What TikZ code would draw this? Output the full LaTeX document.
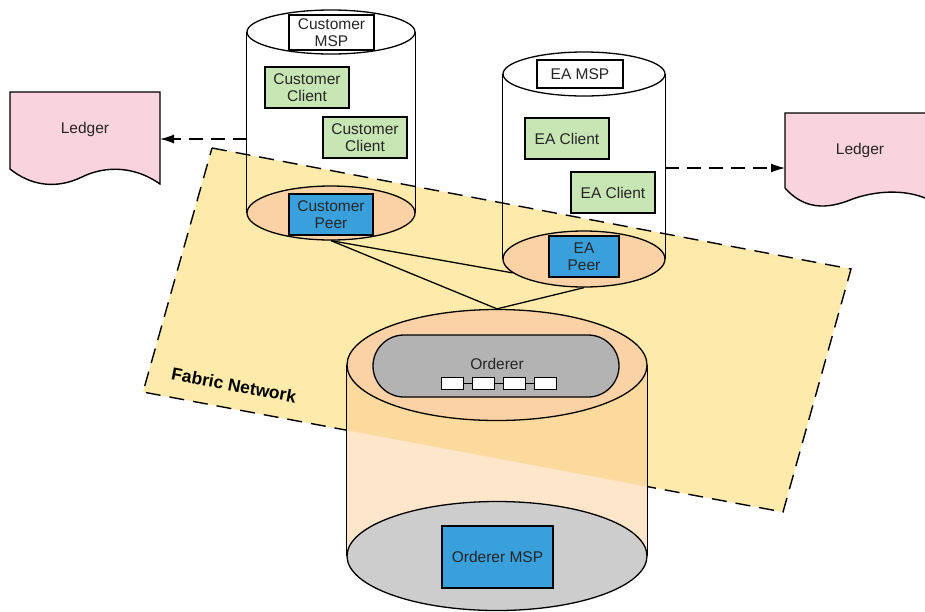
\documentclass[tikz,border=0pt]{standalone}
\usepackage{fontspec}
\setmainfont{Liberation Sans}
\usetikzlibrary{arrows.meta,positioning,shapes.geometric}

\definecolor{ledgerpink}{HTML}{F9D3DE}
\definecolor{netyellow}{HTML}{FEEBAB}
\definecolor{peach}{HTML}{FAD2A6}
\definecolor{peachlight}{HTML}{FEE6CA}
\definecolor{peachdark}{HTML}{FCDA9E}
\definecolor{clientgreen}{HTML}{C7E6B4}
\definecolor{peerblue}{HTML}{3AA0DC}
\definecolor{poolgray}{HTML}{B3B3B3}
\definecolor{basegray}{HTML}{CDCDCD}
\definecolor{inkgray}{HTML}{262626}

\tikzset{
  label text/.style={text=inkgray,align=center,inner sep=0pt,font=\fontsize{15.5}{16.5}\selectfont},
  box/.style={label text,draw=black,line width=1.6pt},
  mspbox/.style={box,fill=white},
  clientbox/.style={box,fill=clientgreen,minimum width=84pt,minimum height=41pt},
  peerbox/.style={box,fill=peerblue,minimum height=41pt},
  disc/.style={ellipse,draw=black,line width=1.3pt,inner sep=0pt},
  link/.style={line width=1.3pt},
  flow/.style={line width=1.3pt,dash pattern=on 14pt off 8pt,-{Latex[length=14pt,width=9pt]}},
  block/.style={draw=black,fill=white,line width=1pt,minimum width=22pt,minimum height=12pt,inner sep=0pt},
}

\begin{document}
\begin{tikzpicture}[x=1pt,y=-1pt]
        \useasboundingbox (0,0) rectangle (925,611);
        \clip (0,0) rectangle (925,611);

        \coordinate (netA) at (212,148);
        \coordinate (netB) at (851,269);
        \coordinate (netC) at (783,512);
        \coordinate (netD) at (143,392);

        \draw
          [fill=netyellow,line width=1.4pt,dash pattern=on 15pt off 9pt]
          (netA)
          -- (netB)
          -- (netC)
          -- (netD)
          -- cycle
        ;
        \node [text=black,inner sep=0pt,rotate=-10.8,font=\bfseries\fontsize{17.5}{18}\selectfont]
          (netLabel) at (234,385) {Fabric Network};

        \draw
          [fill=ledgerpink,line width=1.4pt]
          (10,92)
          -- (160,92)
          -- (160,184)
            .. controls (130,163) and (100,168)
          .. (82,177)
            .. controls (55,190) and (30,185)
          .. (10,169)
          -- cycle
        ;
        \node [label text] (ledgerL) at (85,129) {Ledger};

        \draw
          [fill=ledgerpink,line width=1.4pt]
          (785,113)
          -- (940,113)
          -- (940,206)
            .. controls (910,185) and (870,192)
          .. (850,200)
            .. controls (820,212) and (800,205)
          .. (785,188)
          -- cycle
        ;
        \node [label text] (ledgerR) at (860,150) {Ledger};

        \node [disc,fill=peach,minimum width=168pt,minimum height=54pt] (custBase) at (331,213) {};
        \node [disc,fill=white,minimum width=168pt,minimum height=44pt] (custTop) at (331,32) {};
        \draw [link] (custTop.west) -- (custBase.west);
        \draw [link] (custTop.east) -- (custBase.east);

        \node [disc,fill=peach,minimum width=162pt,minimum height=56pt] (eaBase) at (584,259) {};
        \node [disc,fill=white,minimum width=162pt,minimum height=44pt] (eaTop) at (584,74) {};
        \draw [link] (eaTop.west) -- (eaBase.west);
        \draw [link] (eaTop.east) -- (eaBase.east);

        \fill [peachlight] (347,365) rectangle (647,556);
        \begin{scope}
          \clip (347,365) rectangle (647,556);
          \fill [peachdark] (netA) -- (netB) -- (netC) -- (netD) -- cycle;
        \end{scope}
        \node [disc,fill=basegray,minimum width=300pt,minimum height=109pt] (ordBase) at (497,556) {};
        \node [disc,fill=peach,minimum width=300pt,minimum height=111pt] (ordTop) at (497,365) {};
        \draw [link] (ordTop.west) -- (ordBase.west);
        \draw [link] (ordTop.east) -- (ordBase.east);

        \draw [link] (custBase.south) -- (ordTop.north);
        \draw [link] (custBase.south) -- (eaBase.191);
        \draw [link] (eaBase.south) -- (ordTop.north);

        \node [draw=black,fill=poolgray,line width=1.3pt,rounded corners=31pt,
          minimum width=246pt,minimum height=62pt] (ordPool) at (496,366) {};
        \node [label text] (ordLabel) at (497,364) {Orderer};
        \node [block] (blk1) at (452,383) {};
        \foreach \i in {2,3,4} {
          \pgfmathtruncatemacro\prev{\i-1}
          \node [block,right=8pt of blk\prev] (blk\i) {};
          \draw [line width=1pt] (blk\prev) -- (blk\i);
        }

        \node [mspbox,minimum width=85pt,minimum height=35pt] (custMsp) at (331.5,32.5) {Customer\\MSP};
        \node [clientbox] (custClientA) at (307,87.5) {Customer\\Client};
        \node [clientbox] (custClientB) at (365,137.5) {Customer\\Client};
        \node [peerbox,minimum width=84pt] (custPeer) at (331,214.5) {Customer\\Peer};

        \node [mspbox,minimum width=86pt,minimum height=28pt] (eaMsp) at (580,74) {EA MSP};
        \node [clientbox] (eaClientA) at (567,138.5) {EA Client};
        \node [clientbox] (eaClientB) at (613,192.5) {EA Client};
        \node [peerbox,minimum width=70pt] (eaPeer) at (584,256.5) {EA\\Peer};

        \node [box,fill=peerblue,minimum width=111pt,minimum height=62pt] (ordMsp) at (497.5,557) {Orderer MSP};

        \coordinate (custOut) at (247,139);
        \coordinate (ledgerLIn) at (160,139);
        \coordinate (eaOut) at (665,168);
        \coordinate (ledgerRIn) at (785,168);
        \draw [flow] (custOut) -- (ledgerLIn);
        \draw [flow] (eaOut) -- (ledgerRIn);
\end{tikzpicture}
\end{document}
